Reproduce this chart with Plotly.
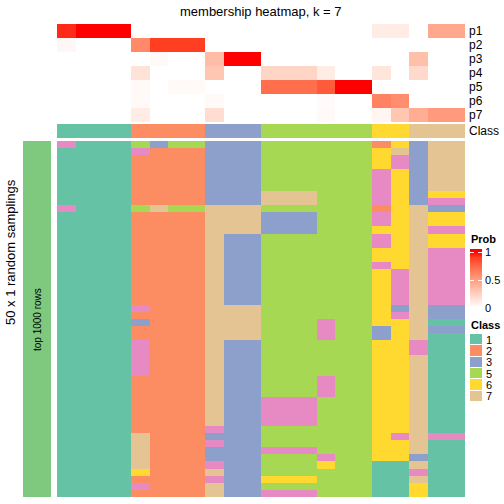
import plotly.graph_objects as go

W = H = 504
FONT = "Liberation Sans, Arial, sans-serif"

def fx(p):
    return p / W

def fy(p):
    return 1 - p / H

# ---------------- data ----------------
sample_ids = [f"s{i}" for i in range(1, 23)]
prob_labels = ["p1", "p2", "p3", "p4", "p5", "p6", "p7"]

p1 = [0.93, 1, 1, 1, 0, 0, 0, 0, 0, 0, 0, 0, 0, 0, 0, 0, 0, 0.10, 0.10, 0, 0.45, 0.45]
p2 = [0.04, 0, 0, 0, 0.60, 0.90, 0.90, 0.90, 0, 0, 0, 0, 0, 0, 0, 0, 0, 0, 0, 0, 0, 0]
p3 = [0, 0, 0, 0, 0, 0.03, 0, 0, 0.35, 1, 1, 0, 0, 0, 0, 0, 0, 0, 0, 0.33, 0, 0]
p4 = [0, 0, 0, 0, 0.15, 0, 0, 0, 0.30, 0, 0, 0.22, 0.22, 0.22, 0.10, 0, 0, 0.13, 0, 0.20, 0, 0]
p5 = [0, 0, 0, 0, 0.03, 0, 0.03, 0.03, 0, 0, 0, 0.72, 0.72, 0.72, 0.80, 1, 1, 0, 0, 0, 0, 0]
p6 = [0, 0, 0, 0, 0.03, 0, 0, 0, 0.03, 0, 0, 0, 0, 0, 0.02, 0, 0, 0.63, 0.58, 0, 0, 0]
p7 = [0, 0, 0, 0, 0.10, 0, 0, 0, 0.18, 0, 0, 0, 0, 0, 0.03, 0, 0, 0.05, 0.30, 0.42, 0.52, 0.52]

class_row = [1, 1, 1, 1, 2, 2, 2, 2, 3, 3, 3, 5, 5, 5, 5, 5, 5, 6, 6, 7, 7, 7]

# 50 random samplings (rows, top to bottom), one digit per sample = class
samplings = [
    "4111535533355555526377",
    "1111422233355555567377",
    "1111222233355555564377",
    "1111222233355555564377",
    "1111222233355555546377",
    "1111222233355555546377",
    "1111222233355555546377",
    "1111222233377755546366",
    "1111222233377755546344",
    "4111575577755555526733",
    "1111222277733355546766",
    "1111222277733355546766",
    "1111222277733355566744",
    "1111222273355555546766",
    "1111222273355555546766",
    "1111222273355555566744",
    "1111222273355555566744",
    "1111222273355555546744",
    "1111222273355555564744",
    "1111222273355555564744",
    "1111222273355555564744",
    "1111222273355555564744",
    "1111222273355555564744",
    "1111422277755555563733",
    "1111222277755555564733",
    "1111322277755545566711",
    "1111222277755545536733",
    "1111222277755545536711",
    "1111422273355555566411",
    "1111422273355555566411",
    "1111422273355555566711",
    "1111422273355555566711",
    "1111422273355555566711",
    "1111222273355545566711",
    "1111222273355545566711",
    "1111222273355545566711",
    "1111222273344455566711",
    "1111222273344455566711",
    "1111222273344455566711",
    "1111222273344455566711",
    "1111222243355555566711",
    "1111722233355555564744",
    "1111722243355555566711",
    "1111722233344455566711",
    "1111722233355545566311",
    "1111722243355565511711",
    "1111622273355555511411",
    "1111222243366655511711",
    "1111422273355555511611",
    "1111222273344455511611",
]

legend_classes = ["1", "2", "3", "5", "6", "7"]
prob_ticks = [0, 0.5, 1]
prob_tick_text = ["0", "0.5", "1"]

class_colors = {1: "#66C2A5", 2: "#FC8D62", 3: "#8DA0CB", 4: "#E78AC3",
                5: "#A6D854", 6: "#FFD92F", 7: "#E5C494"}

# ---------------- colour scales ----------------
def lab_interp(t):
    # white -> red interpolated in CIE Lab
    def to_lab(rgb):
        def lin(c):
            c = c / 255
            return c / 12.92 if c <= 0.04045 else ((c + 0.055) / 1.055) ** 2.4
        r, g, b = (lin(c) for c in rgb)
        X = (0.4124 * r + 0.3576 * g + 0.1805 * b) / 0.95047
        Y = (0.2126 * r + 0.7152 * g + 0.0722 * b)
        Z = (0.0193 * r + 0.1192 * g + 0.9505 * b) / 1.08883
        f = lambda v: v ** (1 / 3) if v > 0.008856 else 7.787 * v + 16 / 116
        return (116 * f(Y) - 16, 500 * (f(X) - f(Y)), 200 * (f(Y) - f(Z)))

    def to_rgb(lab):
        L, a, b = lab
        fy_ = (L + 16) / 116
        fx_ = fy_ + a / 500
        fz_ = fy_ - b / 200
        inv = lambda v: v ** 3 if v ** 3 > 0.008856 else (v - 16 / 116) / 7.787
        X, Y, Z = inv(fx_) * 0.95047, inv(fy_), inv(fz_) * 1.08883
        r = 3.2406 * X - 1.5372 * Y - 0.4986 * Z
        g = -0.9689 * X + 1.8758 * Y + 0.0415 * Z
        bb = 0.0557 * X - 0.2040 * Y + 1.0570 * Z

        def gam(c):
            c = min(max(c, 0), 1)
            return 12.92 * c if c <= 0.0031308 else 1.055 * c ** (1 / 2.4) - 0.055
        return tuple(int(round(gam(c) * 255)) for c in (r, g, bb))

    w, rd = to_lab((255, 255, 255)), to_lab((255, 0, 0))
    lab = tuple(w[i] + (rd[i] - w[i]) * t for i in range(3))
    r, g, b = to_rgb(lab)
    return f"rgb({r},{g},{b})"

prob_scale = [[i / 10, lab_interp(i / 10)] for i in range(11)]

disc_scale = []
for k in range(1, 8):
    disc_scale.append([(k - 1) / 7, class_colors[k]])
    disc_scale.append([k / 7, class_colors[k]])

# ---------------- figure ----------------
fig = go.Figure()

prob_z = [p1, p2, p3, p4, p5, p6, p7]
fig.add_trace(go.Heatmap(
    z=prob_z, x=sample_ids, y=prob_labels, xaxis="x", yaxis="y",
    colorscale=prob_scale, zmin=0, zmax=1, showscale=False,
))

fig.add_trace(go.Heatmap(
    z=[class_row], x=sample_ids, y=["Class"], xaxis="x2", yaxis="y2",
    colorscale=disc_scale, zmin=0.5, zmax=7.5, showscale=False,
))

samp_z = [[int(ch) for ch in row] for row in samplings]
fig.add_trace(go.Heatmap(
    z=samp_z, x=sample_ids, y=list(range(len(samplings))), xaxis="x3", yaxis="y3",
    colorscale=disc_scale, zmin=0.5, zmax=7.5, showscale=False,
))

fig.add_trace(go.Heatmap(
    z=[[1]], x=["top 1000 rows"], y=["all"], xaxis="x4", yaxis="y4",
    colorscale=[[0, "#7FC97F"], [1, "#7FC97F"]], showscale=False,
))

# class legend swatches
fig.add_trace(go.Heatmap(
    z=[[int(c)] for c in legend_classes], x=["Class"], y=legend_classes,
    xaxis="x5", yaxis="y5", colorscale=disc_scale, zmin=0.5, zmax=7.5,
    showscale=False, ygap=1, hoverinfo="y",
))

# Prob legend gradient bar
grad_levels = [i / 100 for i in range(0, 106)]
fig.add_trace(go.Heatmap(
    z=[[min(v, 1)] for v in grad_levels], x=["Prob"], y=grad_levels,
    xaxis="x6", yaxis="y6", colorscale=prob_scale, zmin=0, zmax=1,
    showscale=False, hoverinfo="y",
))

hidden = dict(showgrid=False, zeroline=False, showticklabels=False, ticks="",
              showline=False, automargin=False)
xdom = [fx(57), fx(465)]
right_lab = dict(side="right", showgrid=False, zeroline=False, ticks="",
                 ticklabelstandoff=3, automargin=False,
                 tickfont=dict(family=FONT, size=12, color="#000"))
legend_lab = dict(side="right", showgrid=False, zeroline=False, ticks="",
                  ticklabelstandoff=3, automargin=False,
                  tickfont=dict(family=FONT, size=11, color="#000"))

fig.update_layout(
    width=W, height=H, margin=dict(l=0, r=0, t=0, b=0, autoexpand=False),
    paper_bgcolor="white", plot_bgcolor="white", showlegend=False,
    font=dict(family=FONT, size=12, color="#000"),
    xaxis=dict(domain=xdom, anchor="y", **hidden),
    yaxis=dict(domain=[fy(122), fy(24)], anchor="x", autorange="reversed",
               tickmode="array", tickvals=prob_labels, **right_lab),
    xaxis2=dict(domain=xdom, anchor="y2", **hidden),
    yaxis2=dict(domain=[fy(138), fy(124)], anchor="x2",
                tickmode="array", tickvals=["Class"], **right_lab),
    xaxis3=dict(domain=xdom, anchor="y3", **hidden),
    yaxis3=dict(domain=[fy(497), fy(141)], anchor="x3", autorange="reversed",
                **hidden),
    xaxis4=dict(domain=[fx(23), fx(51)], anchor="y4", **hidden),
    yaxis4=dict(domain=[fy(497), fy(141)], anchor="x4", **hidden),
    xaxis5=dict(domain=[fx(470), fx(482)], anchor="y5", **hidden),
    yaxis5=dict(domain=[fy(402), fy(334)], anchor="x5", autorange="reversed",
                tickmode="array", tickvals=legend_classes, **legend_lab),
    xaxis6=dict(domain=[fx(470), fx(482)], anchor="y6", **hidden),
    yaxis6=dict(domain=[fy(308), fy(249)], anchor="x6", range=[0, 1.054],
                side="right", showgrid=False, zeroline=False,
                tickmode="array", tickvals=prob_ticks, ticktext=prob_tick_text,
                ticks="inside", ticklen=4, tickwidth=1,
                tickcolor="rgba(255,255,255,0.9)", mirror="ticks",
                ticklabelstandoff=2, automargin=False,
                tickfont=dict(family=FONT, size=11, color="#000")),
)

fig.add_annotation(text="membership heatmap, k = 7", x=fx(261), y=fy(11),
                   xref="paper", yref="paper", showarrow=False,
                   font=dict(family=FONT, size=13), xanchor="center", yanchor="middle")
fig.add_annotation(text="50 x 1 random samplings", x=fx(10), y=fy(252),
                   xref="paper", yref="paper", showarrow=False, textangle=-90,
                   font=dict(family=FONT, size=13), xanchor="center", yanchor="middle")
fig.add_annotation(text="top 1000 rows", x=fx(37), y=fy(320),
                   xref="paper", yref="paper", showarrow=False, textangle=-90,
                   font=dict(family=FONT, size=10), xanchor="center", yanchor="middle")
fig.add_annotation(text="<b>Class</b>", x=fx(469), y=fy(325),
                   xref="paper", yref="paper", showarrow=False,
                   font=dict(family=FONT, size=11), xanchor="left", yanchor="middle")
fig.add_annotation(text="<b>Prob</b>", x=fx(469), y=fy(239),
                   xref="paper", yref="paper", showarrow=False,
                   font=dict(family=FONT, size=11), xanchor="left", yanchor="middle")

fig.write_html(
    "out.html",
    config={"displayModeBar": False},
    post_script="document.body.style.margin='0px';document.body.style.overflow='hidden';",
)
